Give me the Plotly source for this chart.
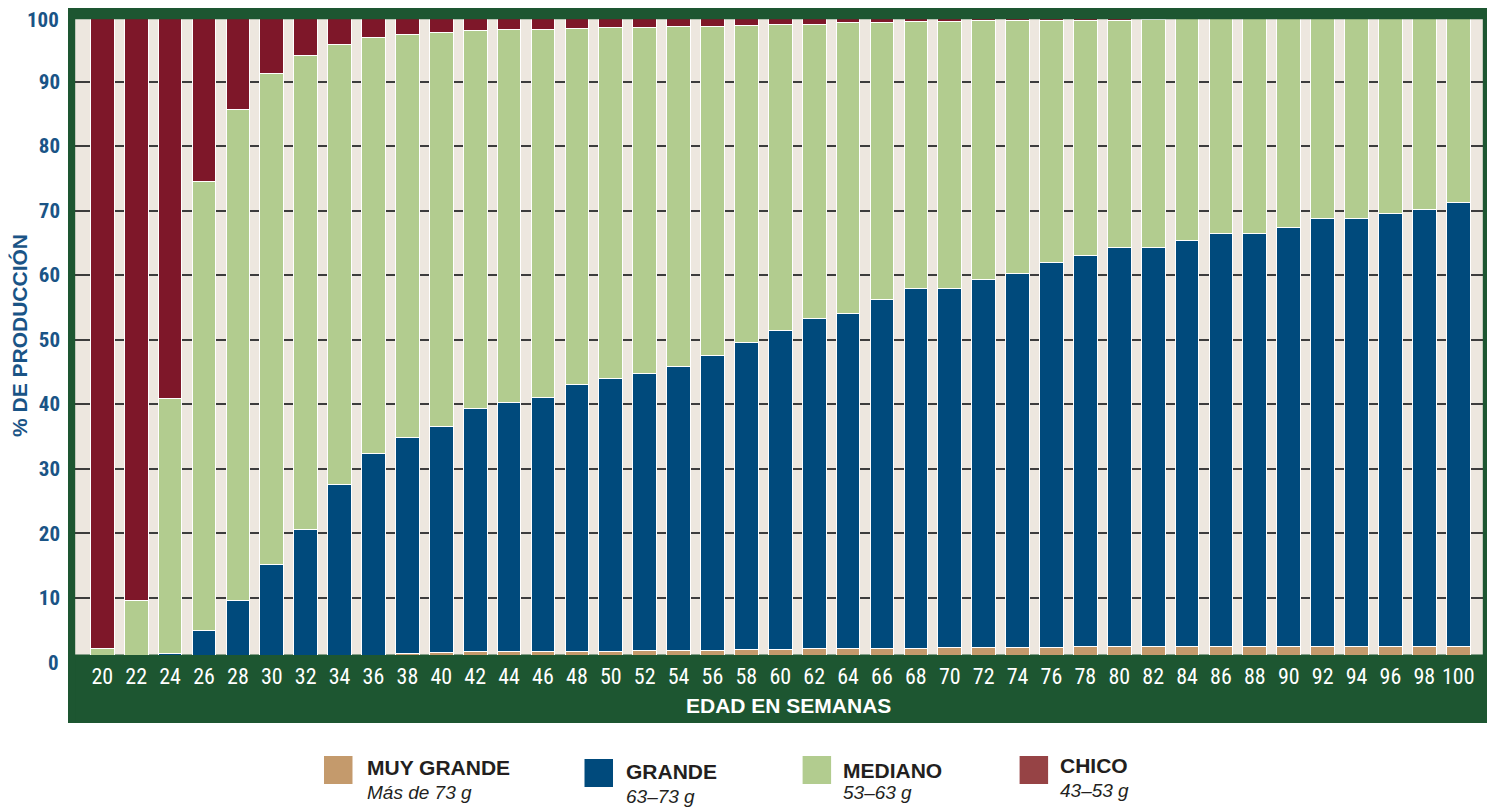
import plotly.graph_objects as go

# ---------------- data ----------------
weeks = list(range(20, 101, 2))

muy_grande = [0, 0, 0, 0, 0, 0, 0, 0.5, 1.0, 1.4, 1.5, 1.6, 1.6, 1.7, 1.7, 1.7, 1.8, 1.8, 1.8, 1.9,
              2.0, 2.1, 2.1, 2.2, 2.2, 2.3, 2.3, 2.3, 2.3, 2.4, 2.4, 2.4, 2.4, 2.4, 2.4, 2.4,
              2.4, 2.4, 2.4, 2.5, 2.5]
grande = [0, 0, 1.4, 4.9, 9.6, 15.1, 20.5, 27.0, 31.4, 33.5, 35.1, 37.8, 38.6, 39.4, 41.3, 42.2,
          43.0, 44.0, 45.8, 47.6, 49.4, 51.1, 52.0, 54.0, 55.8, 55.7, 57.0, 57.9, 59.7, 60.7,
          61.8, 61.8, 63.0, 64.1, 64.1, 64.9, 66.3, 66.3, 67.2, 67.6, 68.7]
mediano = [2.2, 9.6, 39.4, 69.6, 76.0, 76.1, 73.5, 68.3, 64.4, 62.4, 61.0, 58.5, 57.8, 56.9, 55.2,
           54.4, 53.5, 52.7, 51.0, 49.2, 47.4, 45.7, 45.0, 43.0, 41.3, 41.3, 40.1, 39.2, 37.4,
           36.4, 35.3, 35.4, 34.6, 33.5, 33.5, 32.7, 31.3, 31.3, 30.4, 29.9, 28.8]
chico = [97.8, 90.4, 59.2, 25.5, 14.4, 8.8, 6.0, 4.2, 3.2, 2.7, 2.4, 2.1, 2.0, 2.0, 1.8, 1.7,
         1.7, 1.5, 1.4, 1.3, 1.2, 1.1, 0.9, 0.8, 0.7, 0.7, 0.6, 0.6, 0.6, 0.5, 0.5, 0.4,
         0, 0, 0, 0, 0, 0, 0, 0, 0]

series_names = ["MUY GRANDE", "GRANDE", "MEDIANO", "CHICO"]
series_sub = ["Más de 73 g", "63–73 g", "53–63 g", "43–53 g"]
y_ticks = list(range(10, 91, 10))

# ---------------- style ----------------
BAR_COLORS = ["#C49A6C", "#004A7C", "#B2CC8F", "#7E1729"]
LEG_COLORS = ["#C49A6C", "#004A7C", "#B2CC8F", "#964345"]
GREEN = "#1D5631"
PLOT_BG = "#EDE7DF"
BLUE_TXT = "#1A5486"
NARROW = "Liberation Sans Narrow, Arial Narrow, Roboto Condensed, sans-serif"
SANS = "Liberation Sans, Arial, sans-serif"

OFF = 8  # page body margin in the browser
W, H = 1495 - OFF, 810 - OFF
ML, MR, MT, MB = 75 - OFF, 12, 17 - OFF, 155
PW, PH = W - ML - MR, H - MT - MB


def px(x):  # screen x -> paper
    return (x - OFF - ML) / PW


def py(y):  # screen y -> paper
    return (H - MB - (y - OFF)) / PH


fig = go.Figure()
for vals, name, col in zip([muy_grande, grande, mediano, chico], series_names, BAR_COLORS):
    fig.add_trace(go.Bar(
        x=weeks, y=vals, name=name, width=1.4,
        marker=dict(color=col, line=dict(color="white", width=1)),
    ))

shapes = [
    # frame
    dict(type="rect", xref="paper", yref="paper", x0=px(68), x1=px(75.2), y0=py(723), y1=py(6.7),
         fillcolor=GREEN, line_width=0, layer="above"),
    dict(type="rect", xref="paper", yref="paper", x0=px(1482.8), x1=px(1490), y0=py(723), y1=py(6.7),
         fillcolor=GREEN, line_width=0, layer="above"),
    dict(type="rect", xref="paper", yref="paper", x0=px(68), x1=px(1490), y0=py(19.2), y1=py(6.7),
         fillcolor=GREEN, line_width=0, layer="above"),
    dict(type="rect", xref="paper", yref="paper", x0=px(68), x1=px(1490), y0=py(723), y1=py(654.6),
         fillcolor=GREEN, line_width=0, layer="below"),
]

annotations = [
    dict(text="% DE PRODUCCIÓN", x=px(19), y=py(336), xref="paper", yref="paper", textangle=-90,
         xanchor="center", yanchor="middle", showarrow=False,
         font=dict(family=SANS, size=21, color=BLUE_TXT, weight="bold")),
    dict(text="EDAD EN SEMANAS", x=px(788.5), y=py(705), xref="paper", yref="paper",
         xanchor="center", yanchor="middle", showarrow=False,
         font=dict(family=SANS, size=21, color="white", weight="bold")),
    dict(text="0", x=px(61), y=py(663), xref="paper", yref="paper", xanchor="right",
         yanchor="middle", showarrow=False,
         font=dict(family=NARROW, size=21, color=BLUE_TXT, weight="bold")),
    dict(text="100", x=px(61), y=py(20), xref="paper", yref="paper", xanchor="right",
         yanchor="middle", showarrow=False,
         font=dict(family=NARROW, size=21, color=BLUE_TXT, weight="bold")),
]

# legend (custom)
sw = [(324, 756), (584.5, 759), (802.6, 756), (1019.6, 756)]
txt = [(364.6, 767, 793), (624, 771.7, 796), (841, 770.2, 793), (1057.6, 765, 790)]
for i in range(4):
    x0, y0 = sw[i]
    shapes.append(dict(type="rect", xref="paper", yref="paper", x0=px(x0), x1=px(x0 + 28.5),
                       y0=py(y0 + 28), y1=py(y0), fillcolor=LEG_COLORS[i], line_width=0))
    tx, ty1, ty2 = txt[i]
    annotations.append(dict(text=series_names[i], x=px(tx), y=py(ty1), xref="paper", yref="paper",
                            xanchor="left", yanchor="middle", showarrow=False,
                            font=dict(family=SANS, size=21, color="#231F20", weight="bold")))
    annotations.append(dict(text=series_sub[i], x=px(tx), y=py(ty2), xref="paper", yref="paper",
                            xanchor="left", yanchor="middle", showarrow=False,
                            font=dict(family=SANS, size=19, color="#231F20", style="italic")))

fig.update_layout(
    width=W, height=H, barmode="stack", showlegend=False,
    margin=dict(l=ML, r=MR, t=MT, b=MB, pad=0, autoexpand=False),
    plot_bgcolor=PLOT_BG, paper_bgcolor="white",
    shapes=shapes, annotations=annotations,
    xaxis=dict(range=[18.39, 101.46], tickmode="array", tickvals=weeks,
               ticktext=[str(w) for w in weeks], ticks="", showgrid=False, zeroline=False,
               showline=False, ticklabelstandoff=6, automargin=False,
               tickfont=dict(family=NARROW, size=22, color="white")),
    yaxis=dict(range=[1.12, 100], tickmode="array", tickvals=y_ticks,
               ticktext=[str(v) for v in y_ticks], ticks="", showgrid=True,
               gridcolor="#3C3C3C", gridwidth=1.5, zeroline=False, showline=False,
               ticklabelstandoff=14, automargin=False,
               tickfont=dict(family=NARROW, size=21, color=BLUE_TXT, weight="bold")),
)

fig.write_html("out.html")
